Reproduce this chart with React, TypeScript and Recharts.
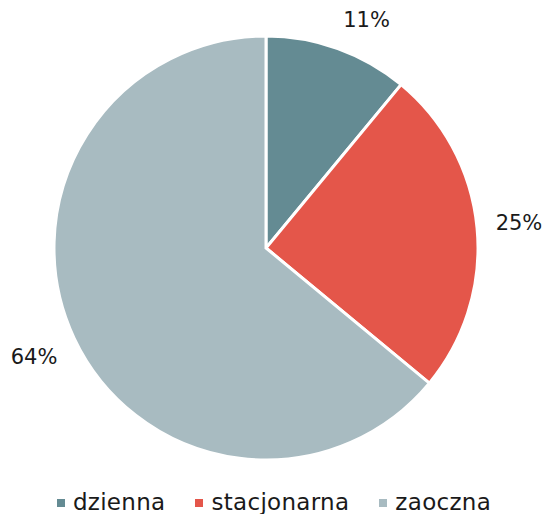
import { PieChart, Pie, Cell, Legend } from 'recharts'

// Struktura studentów wg trybu studiów
const categories = ['dzienna', 'stacjonarna', 'zaoczna']
const shares = [11, 25, 64]
const colors = ['#648b93', '#e4564a', '#a8bbc1']

const data = categories.map((name, i) => ({ name, value: shares[i] }))

const FONT = '"DejaVu Sans", sans-serif'
const RAD = Math.PI / 180

const clamp = (v: number) => Math.max(-1, Math.min(1, v))

// etykieta poza krawędzią, odsunięta od okręgu tak jak w Excelu
function renderLabel(props: any) {
  const { cx, cy, midAngle, outerRadius, value } = props
  const cos = Math.cos(-midAngle * RAD)
  const sin = Math.sin(-midAngle * RAD)
  const r = outerRadius + 20
  const w = 44
  const h = 20
  const x = cx + r * cos + (w / 2) * clamp(cos * 3)
  const y = cy + r * sin + (h / 2) * clamp(sin * 3)
  return (
    <text x={x} y={y} textAnchor="middle" dominantBaseline="central" fill="#1a1a1a" fontSize={21} fontFamily={FONT}>
      {`${value}%`}
    </text>
  )
}

function LegendContent() {
  return (
    <div style={{ display: 'flex', justifyContent: 'center', fontFamily: FONT, fontSize: 23, letterSpacing: 0.3, color: '#1a1a1a', lineHeight: '24px' }}>
      {categories.map((c, i) => (
        <div key={c} style={{ display: 'flex', alignItems: 'center', margin: '0 15px' }}>
          <span style={{ width: 8, height: 8, background: colors[i], marginRight: 8, marginTop: 2 }} />
          <span>{c}</span>
        </div>
      ))}
    </div>
  )
}

export default function App() {
  return (
    <div style={{ position: 'absolute', left: 0, top: 0, background: '#fff' }}>
      <PieChart width={542} height={514} margin={{ top: 0, right: 0, bottom: 0, left: 0 }}>
        <Pie
          data={data}
          dataKey="value"
          nameKey="name"
          cx={266}
          cy={248}
          outerRadius={212}
          startAngle={90}
          endAngle={-270}
          stroke="#fff"
          strokeWidth={3}
          label={renderLabel}
          labelLine={false}
          isAnimationActive={false}
        >
          {data.map((d, i) => (
            <Cell key={d.name} fill={colors[i]} />
          ))}
        </Pie>
        <Legend content={<LegendContent />} wrapperStyle={{ position: 'absolute', left: 3, top: 490, width: 542 }} />
      </PieChart>
    </div>
  )
}
